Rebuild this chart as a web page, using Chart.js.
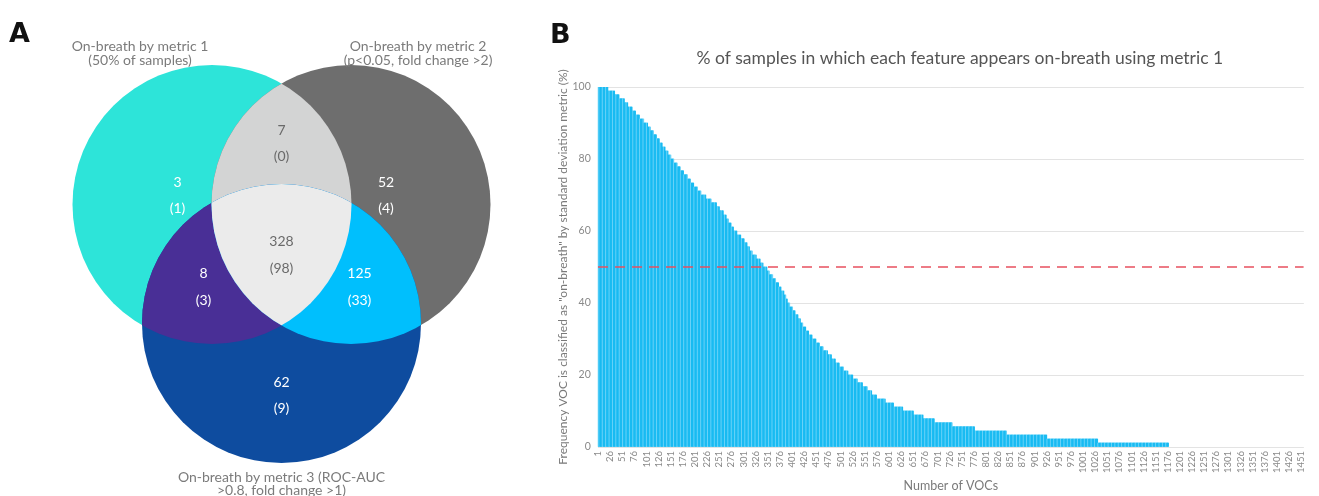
<!DOCTYPE html>
<html lang="en">
<head>
<meta charset="UTF-8">
<title>On-breath VOCs</title>
<script src="https://cdn.jsdelivr.net/npm/chart.js"></script>
<style>
  body { margin: 0; background: #fff; font-family: Lato, sans-serif; }
  #wrap { position: relative; width: 1319px; height: 496px; }
  #vennBox { position: absolute; left: 0; top: 0; width: 540px; height: 496px; }
  #barBox { position: absolute; left: 540px; top: 0; width: 779px; height: 496px; }
</style>
</head>
<body>
<div id="wrap">
  <div id="vennBox"><canvas id="venn"></canvas></div>
  <div id="barBox"><canvas id="bars"></canvas></div>
</div>
<script>
// ---- panel A data: Venn counts (number, and number in brackets) ----
const vennSetNames = [
  ['On-breath by metric 1', '(50% of samples)'],
  ['On-breath by metric 2', '(p<0.05, fold change >2)'],
  ['On-breath by metric 3 (ROC-AUC', '>0.8, fold change >1)']
];
const vennRegions = ['1', '2', '3', '12', '13', '23', '123'];
const vennCounts  = [3, 52, 62, 7, 8, 125, 328];
const vennBracket = [1, 4, 9, 0, 3, 33, 98];

// ---- panel B data: frequency steps ----
const totalVOCs = 1456;
const stepValues = [
  100, 98.9, 97.8, 96.7, 95.6, 94.4, 93.3, 92.2, 91.1, 90,
  88.9, 87.8, 86.7, 85.6, 84.4, 83.3, 82.2, 81.1, 80, 78.9,
  77.8, 76.7, 75.6, 74.4, 73.3, 72.2, 71.1, 70, 68.9, 67.8,
  66.7, 65.6, 64.4, 63.3, 62.2, 61.1, 60, 58.9, 57.8, 56.7,
  55.6, 54.4, 53.3, 52.2, 51.1, 50, 48.9, 47.8, 46.7, 45.6,
  44.4, 43.3, 42.2, 41.1, 40, 38.9, 37.8, 36.7, 35.6, 34.4,
  33.3, 32.2, 31.1, 30, 28.9, 27.8, 26.7, 25.6, 24.4, 23.3,
  22.2, 21.1, 20, 18.9, 17.8, 16.7, 15.6, 14.4, 13.3, 12.2,
  11.1, 10, 8.9, 7.8, 6.7, 5.6, 4.4, 3.3, 2.2, 1.1
];
const stepCounts = [
  21, 14, 9, 11, 7, 9, 7, 8, 9, 8,
  6, 6, 6, 6, 6, 6, 6, 6, 6, 7,
  6, 7, 8, 6, 7, 8, 7, 10, 11, 11,
  6, 8, 6, 5, 5, 5, 7, 8, 7, 6,
  5, 6, 8, 8, 6, 8, 5, 7, 6, 6,
  5, 6, 4, 3, 5, 6, 5, 6, 5, 5,
  6, 6, 7, 8, 7, 8, 9, 8, 8, 8,
  9, 9, 10, 10, 10, 10, 9, 10, 18, 17,
  19, 22, 20, 23, 37, 46, 66, 83, 105, 146
];
const threshold = 50;
const tickEvery = 25;

const vocLabels = Array.from({ length: totalVOCs }, (_, i) => String(i + 1));
const frequency = [];
stepValues.forEach((v, i) => {
  for (let j = 0; j < stepCounts[i]; j++) frequency.push(v);
});
while (frequency.length < totalVOCs) frequency.push(0);

// ---- Venn layout (scale units = pixels of the panel) ----
const circles = [
  { x: 212, y: 204.5, r: 139.5 },
  { x: 351, y: 204.5, r: 139.5 },
  { x: 281.5, y: 323.5, r: 139.5 }
];
const regionColors = {
  '1': '#2de4d9', '2': '#6e6e6e', '3': '#0e4c9f',
  '12': '#d3d4d4', '13': '#492f96', '23': '#00bffd', '123': '#ebebeb'
};
const regionAnchors = {
  '1': [177.5, 182], '2': [386, 182], '3': [281.5, 382],
  '12': [281.5, 130], '13': [203.5, 273.5], '23': [359.5, 273.5], '123': [281.5, 241.5]
};
const darkText = ['12', '123'];

const FONT = 'Lato, "Open Sans", sans-serif';
const LETTER_FONT = 'bold 27px "DejaVu Sans", sans-serif';

const vennPlugin = {
  id: 'venn',
  afterDatasetsDraw(chart) {
    const ctx = chart.ctx;
    const xs = chart.scales.x, ys = chart.scales.y;
    const c = circles.map(o => ({
      x: xs.getPixelForValue(o.x),
      y: ys.getPixelForValue(o.y),
      r: xs.getPixelForValue(o.x + o.r) - xs.getPixelForValue(o.x)
    }));
    const path = k => { ctx.beginPath(); ctx.arc(c[k].x, c[k].y, c[k].r, 0, Math.PI * 2); };
    const fill = (k, col, clips) => {
      ctx.save();
      clips.forEach(cl => { path(cl); ctx.clip(); });
      path(k); ctx.fillStyle = col; ctx.fill();
      ctx.restore();
    };
    fill(0, regionColors['1'], []);
    fill(1, regionColors['2'], []);
    fill(2, regionColors['3'], []);
    fill(1, regionColors['12'], [0]);
    fill(2, regionColors['13'], [0]);
    fill(2, regionColors['23'], [1]);
    fill(2, regionColors['123'], [0, 1]);

    ctx.save();
    ctx.textAlign = 'center';
    ctx.textBaseline = 'middle';
    ctx.font = '14px ' + FONT;
    vennRegions.forEach((reg, i) => {
      const a = regionAnchors[reg];
      const x = xs.getPixelForValue(a[0]);
      const y = ys.getPixelForValue(a[1]);
      ctx.fillStyle = darkText.includes(reg) ? '#6a6a6a' : '#ffffff';
      ctx.fillText(String(vennCounts[i]), x, y);
      ctx.fillText('(' + vennBracket[i] + ')', x, y + 26.5);
    });

    // set captions
    ctx.fillStyle = '#7b7b7b';
    ctx.font = '14px ' + FONT;
    const caps = [[140, 46.5], [418, 46.5], [281.5, 477]];
    vennSetNames.forEach((lines, i) => {
      lines.forEach((t, j) => {
        ctx.fillText(t, xs.getPixelForValue(caps[i][0]), ys.getPixelForValue(caps[i][1] + j * 13.5));
      });
    });

    // panel letter
    ctx.fillStyle = '#111';
    ctx.textAlign = 'left';
    ctx.textBaseline = 'alphabetic';
    ctx.font = LETTER_FONT;
    ctx.fillText('A', 9, 42);
    ctx.restore();
  }
};

new Chart(document.getElementById('venn'), {
  type: 'scatter',
  data: { datasets: [{ data: [] }] },
  options: {
    animation: false,
    responsive: true,
    maintainAspectRatio: false,
    layout: { padding: 0 },
    plugins: { legend: { display: false }, tooltip: { enabled: false } },
    scales: {
      x: { display: false, min: 0, max: 540 },
      y: { display: false, min: 0, max: 496, reverse: true }
    }
  },
  plugins: [vennPlugin]
});

const barTitle = {
  id: 'barTitle',
  afterDraw(chart) {
    const ctx = chart.ctx;
    const a = chart.chartArea;
    ctx.save();
    ctx.fillStyle = '#555';
    ctx.font = '17.5px ' + FONT;
    ctx.textAlign = 'center';
    ctx.textBaseline = 'middle';
    ctx.fillText('% of samples in which each feature appears on-breath using metric 1', (a.left + a.right) / 2 + 9, 58);
    ctx.fillStyle = '#111';
    ctx.textAlign = 'left';
    ctx.textBaseline = 'alphabetic';
    ctx.font = LETTER_FONT;
    ctx.fillText('B', 10, 43);
    ctx.restore();
  }
};

// light/dark striping like the original raster
const barColor = ctx => {
  if (!(ctx.raw > 0)) return 'rgba(0,0,0,0)';
  const k = ctx.dataIndex % 7;
  return (k === 2 || k === 3) ? '#6ad3f8' : '#19bbf2';
};

new Chart(document.getElementById('bars'), {
  type: 'bar',
  data: {
    labels: vocLabels,
    datasets: [
      {
        type: 'line',
        data: vocLabels.map(() => threshold),
        borderColor: '#e8505f',
        borderWidth: 1.5,
        borderDash: [10, 7],
        pointRadius: 0,
        fill: false,
        order: 0
      },
      {
        data: frequency,
        backgroundColor: barColor,
        borderWidth: 0,
        barPercentage: 1,
        categoryPercentage: 1,
        order: 1
      }
    ]
  },
  options: {
    animation: false,
    responsive: true,
    maintainAspectRatio: false,
    layout: { padding: { top: 87, right: 2, left: 0, bottom: 0 } },
    plugins: { legend: { display: false }, tooltip: { enabled: false } },
    scales: {
      x: {
        grid: { display: false, drawTicks: false },
        border: { display: false },
        ticks: {
          autoSkip: false, minRotation: 90, maxRotation: 90, padding: 4,
          color: '#8a8a8a', font: { family: FONT, size: 9.5 },
          callback: (v, i) => (i % tickEvery === 0 ? vocLabels[i] : '')
        },
        title: {
          display: true, text: 'Number of VOCs', color: '#7a7a7a',
          font: { family: FONT, size: 12.5 }, padding: { top: 0, bottom: 3 }
        },
        afterFit: s => { s.height = 49; }
      },
      y: {
        min: 0, max: 100,
        ticks: { stepSize: 20, padding: 7, color: '#8a8a8a', font: { family: FONT, size: 10.5 } },
        grid: { color: '#e3e3e3', drawTicks: false },
        border: { display: false },
        title: {
          display: true,
          text: 'Frequency VOC is classified as "on-breath" by standard deviation metric (%)',
          color: '#7a7a7a', font: { family: FONT, size: 12 }, padding: { top: 16, bottom: 0 }
        },
        afterFit: s => { s.width = 57.75; }
      }
    }
  },
  plugins: [barTitle]
});
</script>
</body>
</html>
